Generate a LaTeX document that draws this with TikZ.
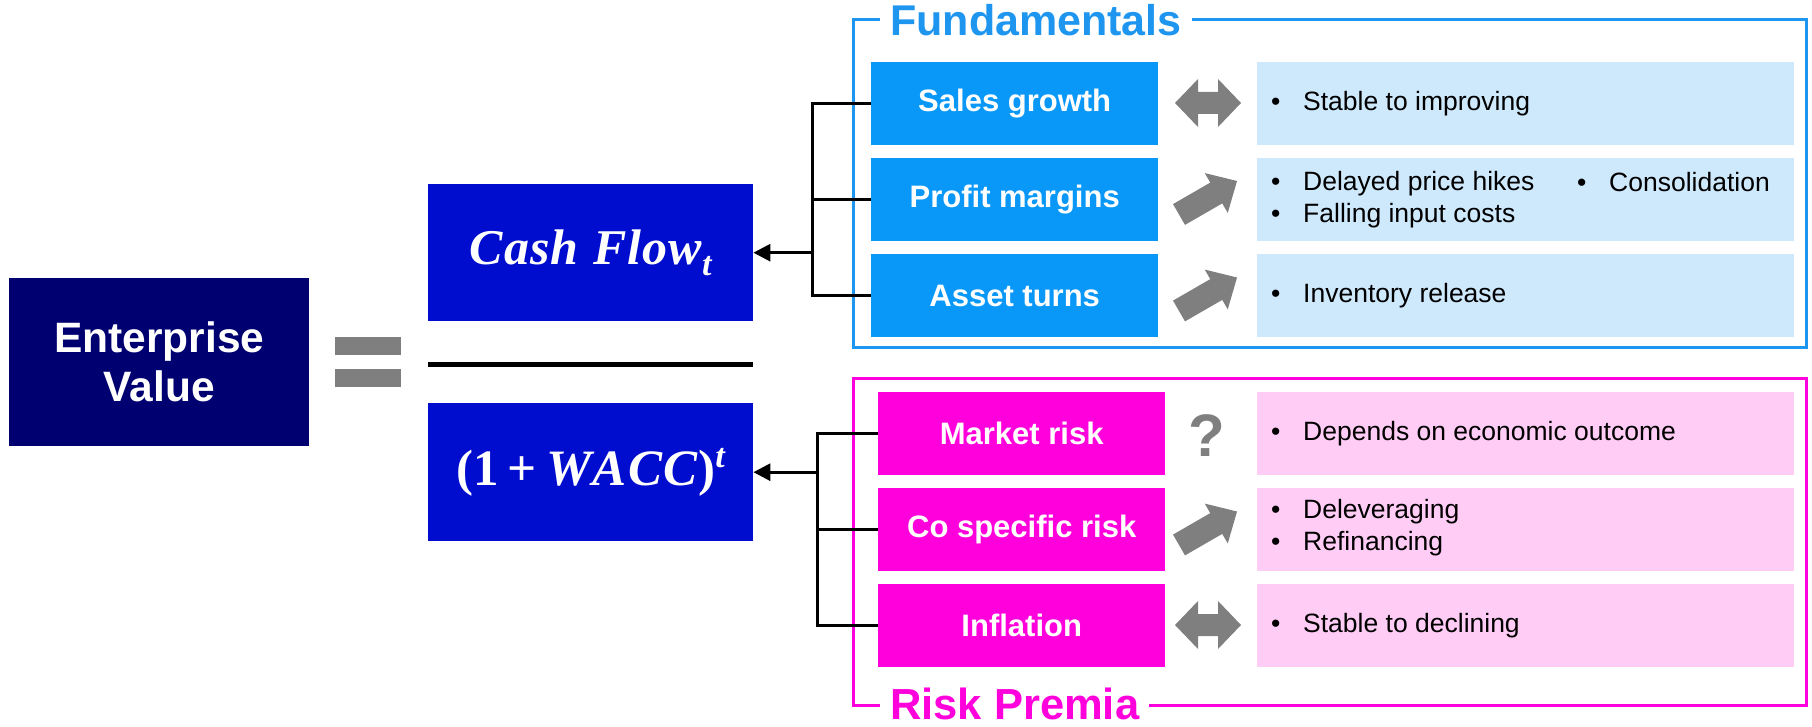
\documentclass[tikz,border=0pt]{standalone}
\usepackage{fontspec}
\setmainfont{Liberation Sans}
\newfontfamily\cashfont{Liberation Serif}
\usetikzlibrary{arrows.meta}
\definecolor{evnavy}{RGB}{0,0,112}
\definecolor{cfblue}{RGB}{0,12,206}
\definecolor{fblue}{RGB}{10,152,248}
\definecolor{fframe}{RGB}{30,150,240}
\definecolor{flight}{RGB}{206,232,252}
\definecolor{rmag}{RGB}{255,0,220}
\definecolor{rlight}{RGB}{255,204,245}
\definecolor{arrgrey}{RGB}{127,127,127}
\tikzset{
  sqbox/.style={anchor=north west, inner sep=0pt, text=white, align=center},
  leftbox/.style={sqbox, minimum width=287pt, minimum height=83pt, font=\fontsize{31}{36}\selectfont\bfseries},
  lightbox/.style={anchor=north west, inner sep=0pt, minimum width=537pt, minimum height=83pt},
  bul/.style={anchor=west, inner sep=0pt, align=left, font=\fontsize{26.5}{32}\selectfont},
  conn/.style={line width=3pt, black},
  dblarr/.pic={\fill[arrgrey] (-33,0) -- (-10,-24) -- (-10,-11) -- (10,-11) -- (10,-24) -- (33,0) -- (10,24) -- (10,11) -- (-10,11) -- (-10,24) -- cycle;},
  uparr/.pic={\fill[arrgrey] (0,-12) -- (43,-12) -- (43,-23) -- (67,0) -- (43,23) -- (43,12) -- (0,12) -- cycle;}
}
\newcommand{\bitem}{\makebox[32pt][l]{\textbullet}}
\begin{document}
\begin{tikzpicture}[x=1pt,y=-1pt]
\useasboundingbox (0,0) rectangle (1812,727);
% Enterprise value
\node[sqbox, fill=evnavy, minimum width=300pt, minimum height=168pt, font=\fontsize{42.5}{49}\selectfont\bfseries] (ev) at (9,278) {Enterprise\\Value};
% equals sign
\fill[arrgrey] (335,337) rectangle (401,355);
\fill[arrgrey] (335,369) rectangle (401,387);
% fraction
\node[sqbox, fill=cfblue, minimum width=325pt, minimum height=137pt, font=\fontsize{50}{56}\selectfont\cashfont\bfseries\itshape] (cf) at (428,184) {C\kern1pt a\kern1pt s\kern1pt h\hspace{15pt}F\kern1pt l\kern1pt o\kern1pt w\raisebox{-11pt}{\fontsize{34}{34}\selectfont t}};
\draw[line width=5pt] (428,364) -- (753,364);
\node[sqbox, fill=cfblue, minimum width=325pt, minimum height=138pt, font=\fontsize{51}{56}\selectfont\cashfont\bfseries] (wacc) at (428,403) {(1\hspace{9pt}+\hspace{9pt}\textit{W\kern1.5pt A\kern1.5pt C\kern1.5pt C})\raisebox{18pt}{\fontsize{34}{34}\selectfont\itshape t}};
% Fundamentals frame
\draw[fframe, line width=3pt] (853,20) rectangle (1806,347);
\node[anchor=west, fill=white, inner xsep=10pt, inner ysep=2pt, text=fframe, font=\fontsize{43}{48}\selectfont\bfseries] (ftitle) at (880,20) {Fundamentals};
\node[leftbox, fill=fblue] (sg) at (871,62) {Sales growth};
\node[leftbox, fill=fblue] (pm) at (871,158) {Profit margins};
\node[leftbox, fill=fblue] (atn) at (871,254) {Asset turns};
\node[lightbox, fill=flight] (sgl) at (1257,62) {};
\node[lightbox, fill=flight] (pml) at (1257,158) {};
\node[lightbox, fill=flight] (atl) at (1257,254) {};
\node[bul] (t1) at (1271,104) {\bitem Stable to improving};
\node[bul] (t2) at (1271,200) {\bitem Delayed price hikes\\\bitem Falling input costs};
\node[bul] (t3) at (1577,182) {\bitem Consolidation};
\node[bul] (t4) at (1271,296) {\bitem Inventory release};
\pic at (1208,103) {dblarr};
\pic[rotate=30] at (1179,214.5) {uparr};
\pic[rotate=30] at (1179,311) {uparr};
% connectors top
\coordinate (tb) at (812,252);
\draw[conn] (sg.west) -- (sg.west -| tb) -- (atn.west -| tb) -- (atn.west);
\draw[conn] (pm.west) -- (pm.west -| tb);
\draw[conn, -{Triangle[length=17pt,width=17pt]}] (tb |- cf.east) -- (cf.east);
% Risk premia frame
\draw[rmag, line width=3pt] (853,378) rectangle (1806,705);
\node[anchor=west, fill=white, inner xsep=10pt, inner ysep=2pt, text=rmag, font=\fontsize{43.5}{48}\selectfont\bfseries] (rtitle) at (880,704) {Risk Premia};
\node[leftbox, fill=rmag] (mr) at (878,392) {Market risk};
\node[leftbox, fill=rmag] (cs) at (878,488) {Co specific risk};
\node[leftbox, fill=rmag] (inf) at (878,584) {Inflation};
\node[lightbox, fill=rlight] (mrl) at (1257,392) {};
\node[lightbox, fill=rlight] (csl) at (1257,488) {};
\node[lightbox, fill=rlight] (infl) at (1257,584) {};
\node[bul] (t5) at (1271,434) {\bitem Depends on economic outcome};
\node[bul] (t6) at (1271,528) {\bitem Deleveraging\\\bitem Refinancing};
\node[bul] (t7) at (1271,626) {\bitem Stable to declining};
\node[text=arrgrey, font=\fontsize{60}{60}\selectfont\bfseries, inner sep=0pt] (q) at (1207,436) {?};
\pic[rotate=30] at (1179,545) {uparr};
\pic at (1208,625) {dblarr};
% connectors bottom
\coordinate (bb) at (817,473);
\draw[conn] (mr.west) -- (mr.west -| bb) -- (inf.west -| bb) -- (inf.west);
\draw[conn] (cs.west) -- (cs.west -| bb);
\draw[conn, -{Triangle[length=17pt,width=17pt]}] (bb |- wacc.east) -- (wacc.east);
\end{tikzpicture}
\end{document}
